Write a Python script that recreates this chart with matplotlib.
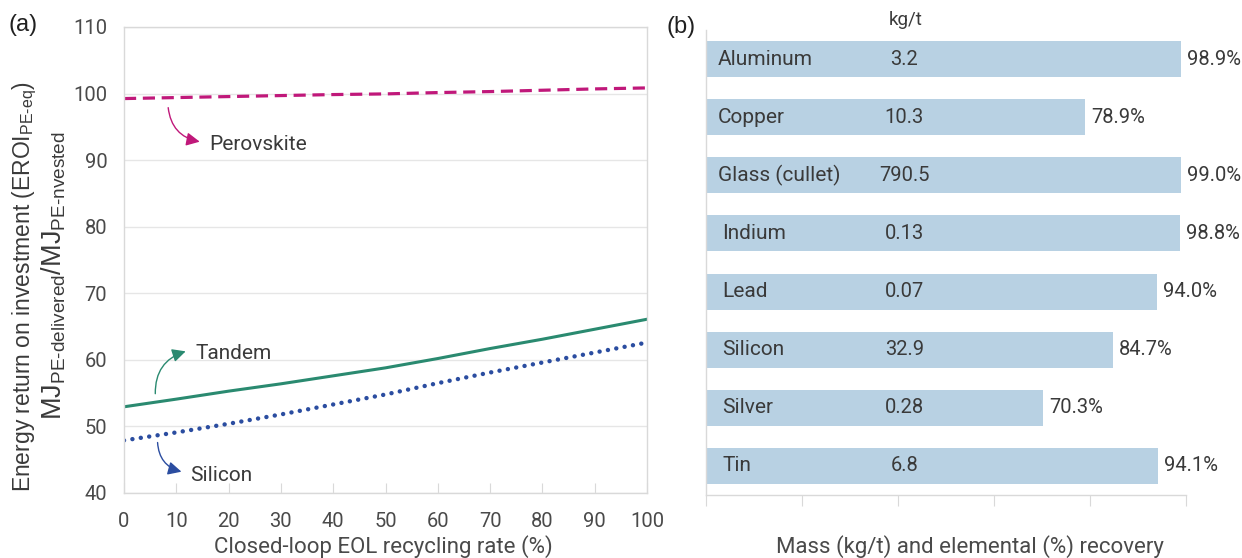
import matplotlib
matplotlib.use("Agg")
import matplotlib.pyplot as plt
import numpy as np
from matplotlib.patches import FancyArrowPatch

# ---------------- data ----------------
recycling_rate = [0, 10, 20, 30, 40, 50, 60, 70, 80, 90, 100]
perovskite = [99.25, 99.4, 99.55, 99.7, 99.85, 99.95, 100.15, 100.3, 100.5, 100.7, 100.85]
tandem = [52.95, 54.1, 55.3, 56.4, 57.6, 58.8, 60.2, 61.7, 63.1, 64.6, 66.1]
silicon = [47.9, 49.1, 50.4, 51.8, 53.3, 54.8, 56.5, 58.1, 59.6, 61.1, 62.6]

materials = ["Aluminum", "Copper", "Glass (cullet)", "Indium", "Lead", "Silicon", "Silver", "Tin"]
mass_kg_t = ["3.2", "10.3", "790.5", "0.13", "0.07", "32.9", "0.28", "6.8"]
recovery_pct = [98.9, 78.9, 99.0, 98.8, 94.0, 84.7, 70.3, 94.1]

y_ticks = [40, 50, 60, 70, 80, 90, 100, 110]
x_ticks = [0, 10, 20, 30, 40, 50, 60, 70, 80, 90, 100]

# ---------------- style ----------------
TXT = "#3a3a3a"
TXT_T = "#4a4a4a"
C_PER = "#C0187A"
C_TAN = "#2A8A70"
C_SIL = "#2B4DA0"
C_BAR = "#B8D1E3"
C_FRAME = "#D9D9D9"
FONT = "Roboto"
FONT2 = "Liberation Sans"

plt.rcParams["font.family"] = [FONT, "DejaVu Sans"]
plt.rcParams["mathtext.fontset"] = "custom"
plt.rcParams["mathtext.rm"] = FONT2
plt.rcParams["mathtext.it"] = FONT2

fig = plt.figure(figsize=(12.42, 5.58), dpi=100)

# ---------------- panel (a) ----------------
axa = fig.add_axes([124 / 1242, 1 - 493 / 558, 523 / 1242, 466 / 558])
axa.plot(recycling_rate, perovskite, color=C_PER, lw=2.3, linestyle=(0, (3.8, 2.1)))
axa.plot(recycling_rate, tandem, color=C_TAN, lw=2.2)
axa.plot(recycling_rate, silicon, color=C_SIL, lw=3.2, linestyle=(0, (0.01, 1.9)),
         dash_capstyle="round")
axa.set_xlim(0, 100)
axa.set_ylim(40, 110)
axa.set_yticks(y_ticks)
axa.set_xticks(x_ticks)
axa.grid(axis="y", color="#E6E6E6", lw=1)
axa.set_axisbelow(True)
for s in axa.spines.values():
    s.set_color(C_FRAME)
    s.set_linewidth(1)
axa.tick_params(axis="y", length=0, pad=12, labelsize=14.5, labelcolor=TXT_T)
axa.tick_params(axis="x", direction="in", length=7, color=C_FRAME, pad=14,
                labelsize=14.5, labelcolor=TXT_T)
fig.text(383 / 1242, 1 - 547 / 558, "Closed-loop EOL recycling rate (%)",
         fontsize=16, color=TXT_T, ha="center", va="center")

def arrow(ax, start, end, rad, color, label, text_xy):
    ar = FancyArrowPatch(start, end, connectionstyle=f"arc3,rad={rad}",
                         arrowstyle="-|>,head_length=5,head_width=2.5",
                         color=color, lw=1.0, mutation_scale=1.6)
    ax.add_patch(ar)
    ax.text(text_xy[0], text_xy[1], label, fontsize=15, color=TXT,
            va="center", ha="left")

arrow(axa, (8.4, 98.3), (15.0, 92.7), 0.4, C_PER, "Perovskite", (16.3, 92.4))
arrow(axa, (6.0, 54.5), (12.3, 61.4), -0.4, C_TAN, "Tandem", (13.6, 61.0))
arrow(axa, (6.4, 48.0), (11.5, 43.1), 0.4, C_SIL, "Silicon", (12.6, 42.6))

fig.text(25 / 1242, 1 - 287 / 558,
         "Energy return on investment (EROI$_{\\mathregular{PE\u2010eq}}$)",
         rotation=90, ha="center", va="center", fontsize=16.5, color=TXT, family=FONT2)
fig.text(54 / 1242, 1 - 276 / 558,
         "MJ$_{\\mathregular{PE\u2010delivered}}$/MJ$_{\\mathregular{PE\u2010nvested}}$",
         rotation=90, ha="center", va="center", fontsize=19.5, color=TXT, family=FONT2)
fig.text(8 / 1242, 1 - 25 / 558, "(a)", fontsize=17, color="#202020", family=FONT2,
         va="center", ha="left")

# ---------------- panel (b) ----------------
axb = fig.add_axes([706 / 1242, 1 - 495 / 558, 480 / 1242, 465 / 558])
ypos = np.arange(len(materials))
axb.barh(ypos, recovery_pct, height=0.62, color=C_BAR)
axb.set_ylim(len(materials) - 0.5, -0.5)
axb.set_xlim(0, 100)
axb.set_xticks([0, 20, 40, 60, 80, 100])
axb.set_xticklabels([])
axb.set_yticks([])
for side in ["top", "right"]:
    axb.spines[side].set_visible(False)
for side in ["left", "bottom"]:
    axb.spines[side].set_color(C_FRAME)
    axb.spines[side].set_linewidth(1)
axb.tick_params(axis="x", direction="out", length=8, color=C_FRAME)

name_x = [2.5, 2.5, 2.5, 3.4, 3.4, 3.4, 3.4, 3.4]
for i, (name, mass, pct) in enumerate(zip(materials, mass_kg_t, recovery_pct)):
    axb.text(name_x[i], i, name, fontsize=15, color=TXT, va="center", ha="left")
    axb.text(41.3, i, mass, fontsize=14.5, color=TXT, va="center", ha="center")
    axb.annotate(f"{pct:.1f}%", (pct, i), xytext=(4.5, 0), textcoords="offset points",
                 fontsize=14.5, color=TXT, va="center", ha="left")

fig.text(906 / 1242, 1 - 20 / 558, "kg/t", fontsize=13.5, color=TXT, ha="center",
         va="center")
fig.text(970 / 1242, 1 - 547 / 558, "Mass (kg/t) and elemental (%) recovery",
         fontsize=16, color=TXT_T, ha="center", va="center")
fig.text(666 / 1242, 1 - 27 / 558, "(b)", fontsize=17, color="#202020", family=FONT2,
         va="center", ha="left")

fig.savefig("out.png", dpi=100)
